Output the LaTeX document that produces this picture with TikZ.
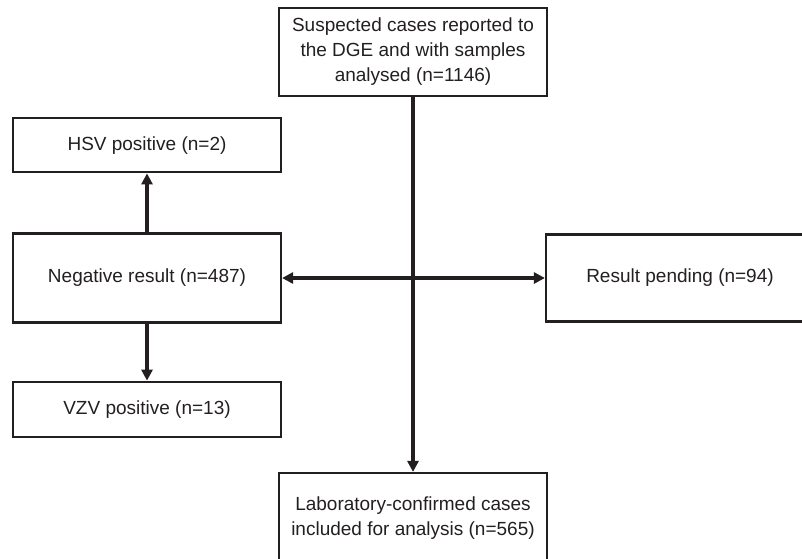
\documentclass[tikz,border=0pt]{standalone}
\usepackage{fontspec}
\setmainfont{Liberation Sans}
\usetikzlibrary{arrows.meta,positioning}
\definecolor{ink}{HTML}{231F20}

\begin{document}
\begin{tikzpicture}[x=1pt, y=-1pt,
    box/.style={draw=ink, line width=2.2pt, rectangle, minimum width=268pt, align=center, text=ink, font=\fontsize{19}{25}\selectfont, inner sep=0pt},
    link/.style={draw=ink, line width=3.4pt, -{Triangle[length=11pt,width=11pt]}}]
    \useasboundingbox (0,0) rectangle (802,558);
    \clip (0,0) rectangle (802,558);

    % Nodes
    \node[box, minimum height=88pt] (suspected) at (413,52) {Suspected cases reported to\\the DGE and with samples\\analysed (n=1146)};
    \node[box, minimum height=89pt] (negative) at (147,278) {Negative result (n=487)};
    \node[box, minimum height=54pt, above=59pt of negative] (hsv) {HSV positive (n=2)};
    \node[box, minimum height=55pt, below=57pt of negative] (vzv) {VZV positive (n=13)};
    \node[box, minimum height=87pt] (pending) at (680,278) {Result pending (n=94)};
    \node[box, minimum height=91pt] (confirmed) at (413,518.5) {Laboratory-confirmed cases\\included for analysis (n=565)};

    % Arrows
    \draw[link] (suspected) -- (confirmed);
    \draw[link, {Triangle[length=11pt,width=11pt]}-{Triangle[length=11pt,width=11pt]}] (negative.east) -- (pending.west);
    \draw[link] (negative) -- (hsv);
    \draw[link] (negative) -- (vzv);
\end{tikzpicture}
\end{document}
